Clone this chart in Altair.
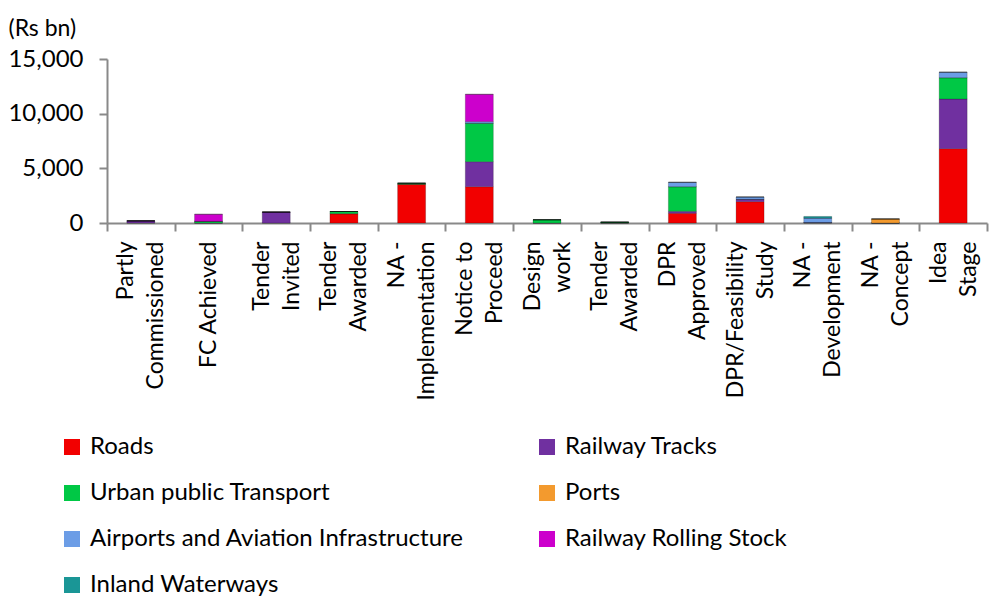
import json
import altair as alt
import pandas as pd

categories = [
    ["Partly", "Commissioned"],
    ["FC Achieved"],
    ["Tender", "Invited"],
    ["Tender", "Awarded"],
    ["NA -", "Implementation"],
    ["Notice to", "Proceed"],
    ["Design", "work"],
    ["Tender", "Awarded"],
    ["DPR", "Approved"],
    ["DPR/Feasibility", "Study"],
    ["NA -", "Development"],
    ["NA -", "Concept"],
    ["Idea", "Stage"],
]

series = [
    "Roads",
    "Railway Tracks",
    "Urban public Transport",
    "Ports",
    "Airports and Aviation Infrastructure",
    "Railway Rolling Stock",
    "Inland Waterways",
]
colors = ["#F20000", "#7030A0", "#00C845", "#F39A2E", "#6C9DE6", "#CC00CC", "#1A9696"]

roads = [0, 0, 0, 850, 3540, 3320, 0, 0, 890, 1950, 0, 0, 6800]
railway_tracks = [200, 0, 1000, 0, 0, 2290, 0, 0, 180, 220, 50, 0, 4540]
urban_transport = [0, 150, 0, 200, 100, 3510, 300, 80, 2250, 0, 0, 0, 1950]
ports = [0, 0, 0, 0, 0, 0, 0, 0, 0, 0, 0, 370, 0]
airports = [0, 0, 0, 0, 0, 150, 0, 0, 400, 210, 400, 0, 500]
rolling_stock = [0, 650, 0, 0, 0, 2500, 0, 0, 0, 0, 0, 0, 0]
inland_waterways = [0, 0, 0, 0, 0, 0, 0, 0, 0, 0, 150, 0, 0]

values = [roads, railway_tracks, urban_transport, ports, airports, rolling_stock, inland_waterways]

rows = []
for si, (name, vals) in enumerate(zip(series, values)):
    for ci, v in enumerate(vals):
        rows.append({"cat": ci, "series": name, "order": si, "value": v})
df = pd.DataFrame(rows)

FONT = "Lato"
label_expr = json.dumps(categories) + "[datum.value]"
single_line = [i for i, c in enumerate(categories) if len(c) == 1]
single_test = " || ".join(f"datum.value == {i}" for i in single_line) or "false"

chart = alt.Chart(df).mark_bar(size=28, stroke="#000000", strokeOpacity=0.25, strokeWidth=0.8).encode(
    x=alt.X(
        "cat:O",
        scale=alt.Scale(paddingInner=0, paddingOuter=0),
        axis=alt.Axis(
            title=None,
            labelExpr=label_expr,
            labelAngle=270,
            labelAlign="right",
            labelBaseline="middle",
            labelLineHeight=30,
            labelOffset={"condition": {"test": single_test, "value": 0}, "value": -15},
            labelPadding=10,
            labelFontSize=23,
            labelFont=FONT,
            labelColor="#000000",
            tickBand="extent",
            tickSize=8,
            tickColor="#898989",
            domainColor="#898989",
            tickWidth=2,
            domainWidth=2,
            labelOverlap=False,
            labelLimit=300,
        ),
    ),
    y=alt.Y(
        "value:Q",
        stack="zero",
        scale=alt.Scale(domain=[0, 15000], nice=False),
        axis=alt.Axis(
            title="(Rs bn)",
            titleAngle=0,
            titleX=-99,
            titleY=-24,
            titleAlign="left",
            titleBaseline="alphabetic",
            titleFont=FONT,
            titleFontSize=23,
            titleFontWeight="normal",
            titleColor="#000000",
            values=[0, 5000, 10000, 15000],
            format=",.0f",
            labelFontSize=24,
            labelFont=FONT,
            labelColor="#000000",
            labelPadding=16,
            tickSize=8,
            tickColor="#898989",
            domainColor="#898989",
            tickWidth=2,
            domainWidth=2,
            grid=False,
        ),
    ),
    color=alt.Color(
        "series:N",
        scale=alt.Scale(domain=series, range=colors),
        legend=alt.Legend(
            title=None,
            orient="none",
            direction="horizontal",
            legendX=-47,
            legendY=376,
            columns=2,
            columnPadding=71,
            rowPadding=22,
            symbolType="square",
            symbolSize=256,
            symbolStrokeWidth=0,
            labelFontSize=24,
            labelFont=FONT,
            labelColor="#000000",
            labelOffset=6,
            labelLimit=600,
        ),
    ),
    order=alt.Order("order:Q", sort="ascending"),
).properties(
    width=880,
    height=164,
    autosize=alt.AutoSizeParams(type="none"),
    padding={"left": 107, "top": 59, "right": 6, "bottom": 375},
).configure_view(stroke=None)

chart.save("out.html", embed_options={"renderer": "svg", "actions": False})
